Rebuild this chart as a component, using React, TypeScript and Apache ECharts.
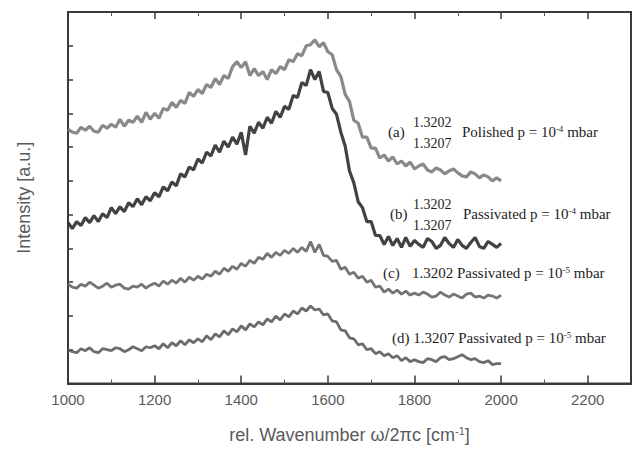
import React, { useEffect, useRef } from "react";
import * as echarts from "echarts";

const wavenumbers = [
  1000, 1010, 1020, 1030, 1040, 1050, 1060, 1070, 1080, 1090,
  1100, 1110, 1120, 1130, 1140, 1150, 1160, 1170, 1180, 1190,
  1200, 1210, 1220, 1230, 1240, 1250, 1260, 1270, 1280, 1290,
  1300, 1310, 1320, 1330, 1340, 1350, 1360, 1370, 1380, 1390,
  1400, 1410, 1420, 1430, 1440, 1450, 1460, 1470, 1480, 1490,
  1500, 1510, 1520, 1530, 1540, 1550, 1560, 1570, 1580, 1590,
  1600, 1610, 1620, 1630, 1640, 1650, 1660, 1670, 1680, 1690,
  1700, 1710, 1720, 1730, 1740, 1750, 1760, 1770, 1780, 1790,
  1800, 1810, 1820, 1830, 1840, 1850, 1860, 1870, 1880, 1890,
  1900, 1910, 1920, 1930, 1940, 1950, 1960, 1970, 1980, 1990,
  2000,
];

// (a) 1.3202 / 1.3207 Polished p = 10^-4 mbar
const seriesA = [
  256, 253, 252, 258, 255, 259, 254, 253, 260, 257,
  261, 258, 266, 259, 265, 263, 269, 263, 273, 266,
  272, 267, 277, 275, 283, 278, 285, 282, 293, 289,
  296, 292, 301, 298, 307, 301, 310, 307, 319, 324,
  318, 324, 310, 317, 310, 314, 306, 316, 312, 319,
  316, 326, 324, 332, 330, 340, 341, 346, 339, 343,
  334, 331, 316, 309, 291, 284, 265, 262, 248, 248,
  237, 237, 227, 230, 224, 228, 221, 224, 219, 223,
  216, 219, 221, 215, 213, 217, 215, 211, 214, 216,
  212, 209, 208, 213, 211, 207, 210, 208, 204, 207,
  204,
];

// (b) 1.3202 / 1.3207 Passivated p = 10^-4 mbar
const seriesB = [
  162, 156, 163, 159, 167, 162, 169, 163, 171, 167,
  177, 171, 178, 173, 182, 178, 186, 180, 188, 184,
  192, 188, 198, 194, 203, 199, 211, 208, 218, 215,
  226, 222, 233, 229, 240, 233, 244, 238, 248, 241,
  253, 230, 259, 252, 263, 257, 268, 262, 274, 268,
  279, 276, 290, 288, 303, 300, 316, 306, 314, 294,
  293, 277, 271, 253, 239, 214, 202, 183, 177, 163,
  163, 149, 149, 140, 148, 139, 146, 137, 147, 138,
  144, 140, 137, 146, 143, 136, 139, 147, 141, 137,
  145, 139, 136, 142, 147, 138, 136, 143, 140, 137,
  141,
];

// (c) 1.3202 Passivated p = 10^-5 mbar
const seriesC = [
  100, 97, 96, 100, 98, 102, 99, 96, 98, 101,
  97, 99, 100, 96, 95, 98, 97, 100, 96, 99,
  101, 98, 103, 100, 104, 101, 106, 102, 107, 104,
  108, 105, 110, 108, 113, 110, 116, 113, 118, 115,
  121, 118, 124, 121, 127, 125, 131, 127, 132, 129,
  134, 131, 136, 132, 137, 133, 143, 132, 140, 129,
  128, 123, 124, 115, 117, 110, 112, 106, 108, 102,
  104, 97, 98, 92, 95, 91, 94, 90, 93, 89,
  91, 89, 92, 90, 87, 88, 92, 89, 87, 90,
  88, 86, 90, 91, 87, 88, 86, 89, 88, 86,
  89,
];

// (d) 1.3207 Passivated p = 10^-5 mbar
const seriesD = [
  34, 32, 31, 35, 33, 36, 32, 31, 35, 34,
  33, 36, 35, 32, 34, 37, 35, 33, 37, 36,
  38, 35, 40, 36, 41, 38, 43, 39, 44, 41,
  45, 42, 48, 44, 50, 47, 53, 49, 55, 52,
  58, 54, 60, 57, 62, 59, 65, 62, 68, 64,
  70, 67, 73, 70, 76, 73, 78, 74, 75, 69,
  70, 63, 62, 54, 53, 46, 45, 39, 40, 34,
  35, 30, 32, 28, 30, 26, 28, 23, 26, 22,
  24, 22, 21, 25, 24, 22, 26, 27, 24, 25,
  27, 29, 26, 24, 25, 22, 21, 23, 19, 20,
  20,
];

const xTickLabels = ["1000", "1200", "1400", "1600", "1800", "2000", "2200"];

const pair = (vals: number[]) => wavenumbers.map((w, i) => [w, vals[i]]);

const serif = '"Liberation Serif", "Times New Roman", serif';
const sans = '"Liberation Sans", Arial, sans-serif';

function annot(text: string, x: number, y: number, size = 15) {
  return {
    type: "text",
    x,
    y,
    silent: true,
    style: {
      text,
      fill: "#1e1e1e",
      font: `${size}px ${serif}`,
      verticalAlign: "middle",
      align: "left",
      rich: {
        sup: { fontSize: 9, fontFamily: serif, fill: "#1e1e1e", verticalAlign: "top", padding: [0, 0, 6, 0] },
      },
    },
  };
}

export default function App() {
  const ref = useRef<HTMLDivElement>(null);
  useEffect(() => {
    if (!ref.current) return;
    const chart = echarts.init(ref.current, undefined, { renderer: "svg" });
    const axisLine = { show: true, lineStyle: { color: "#3a3a3a", width: 2 } };
    const line = (name: string, vals: number[], color: string, w: number) => ({
      name,
      type: "line",
      data: pair(vals),
      showSymbol: false,
      symbol: "none",
      lineStyle: { color, width: w, opacity: 0.9 },
      z: 3,
    });
    chart.setOption({
      animation: false,
      backgroundColor: "#ffffff",
      grid: { left: 68, right: 6, top: 12, bottom: 64, show: true, borderColor: "#3a3a3a", borderWidth: 2 },
      xAxis: [
        {
          type: "value",
          min: 1000,
          max: 2300,
          interval: 200,
          position: "bottom",
          axisLine,
          axisTick: { inside: true, length: 8, lineStyle: { color: "#3a3a3a", width: 1.5 } },
          minorTick: { show: true, splitNumber: 2, length: 4, lineStyle: { color: "#555" } },
          splitLine: { show: false },
          axisLabel: {
            margin: 8,
            color: "#5a5a5a",
            fontSize: 15,
            fontFamily: sans,
            formatter: (v: number) => (xTickLabels.includes(String(v)) ? String(v) : ""),
          },
          name: "rel. Wavenumber ω/2πc [cm{sup|-1}]",
          nameLocation: "middle",
          nameGap: 42,
          nameTextStyle: {
            color: "#5a5a5a",
            fontSize: 18,
            fontFamily: sans,
            rich: { sup: { fontSize: 11, color: "#5a5a5a", verticalAlign: "top", padding: [0, 0, 8, 0] } },
          },
        },
        {
          type: "value",
          min: 1000,
          max: 2300,
          interval: 200,
          position: "top",
          axisLine,
          axisTick: { inside: true, length: 7, lineStyle: { color: "#3a3a3a", width: 1.5 } },
          minorTick: { show: true, splitNumber: 2, length: 4, lineStyle: { color: "#555" } },
          splitLine: { show: false },
          axisLabel: { show: false },
        },
      ],
      yAxis: {
        type: "value",
        min: 0,
        max: 374,
        interval: 34,
        axisLine,
        axisTick: { inside: true, length: 5, lineStyle: { color: "#3a3a3a", width: 1.5 } },
        splitLine: { show: false },
        axisLabel: { show: false },
        name: "Intensity [a.u.]",
        nameLocation: "middle",
        nameRotate: 90,
        nameGap: 35,
        nameTextStyle: { color: "#5a5a5a", fontSize: 18, fontFamily: sans },
      },
      series: [
        line("(a)", seriesA, "#7c7c7c", 3.2),
        line("(b)", seriesB, "#2e2e2e", 3.2),
        line("(c)", seriesC, "#666666", 2.8),
        line("(d)", seriesD, "#5c5c5c", 2.8),
      ],
      graphic: [
        annot("(a)", 388, 132),
        annot("1.3202", 413, 122, 14),
        annot("1.3207", 413, 143, 14),
        annot("Polished p = 10{sup|-4} mbar", 462, 132),
        annot("(b)", 390, 214),
        annot("1.3202", 413, 204, 14),
        annot("1.3207", 413, 225, 14),
        annot("Passivated p = 10{sup|-4} mbar", 463, 214),
        annot("(c)", 383, 273),
        annot("1.3202 Passivated p = 10{sup|-5} mbar", 412, 273),
        annot("(d) 1.3207 Passivated p = 10{sup|-5} mbar", 392, 338),
      ],
    });
    return () => chart.dispose();
  }, []);
  return <div ref={ref} style={{ position: "fixed", left: 0, top: 0, width: 637, height: 449 }} />;
}
